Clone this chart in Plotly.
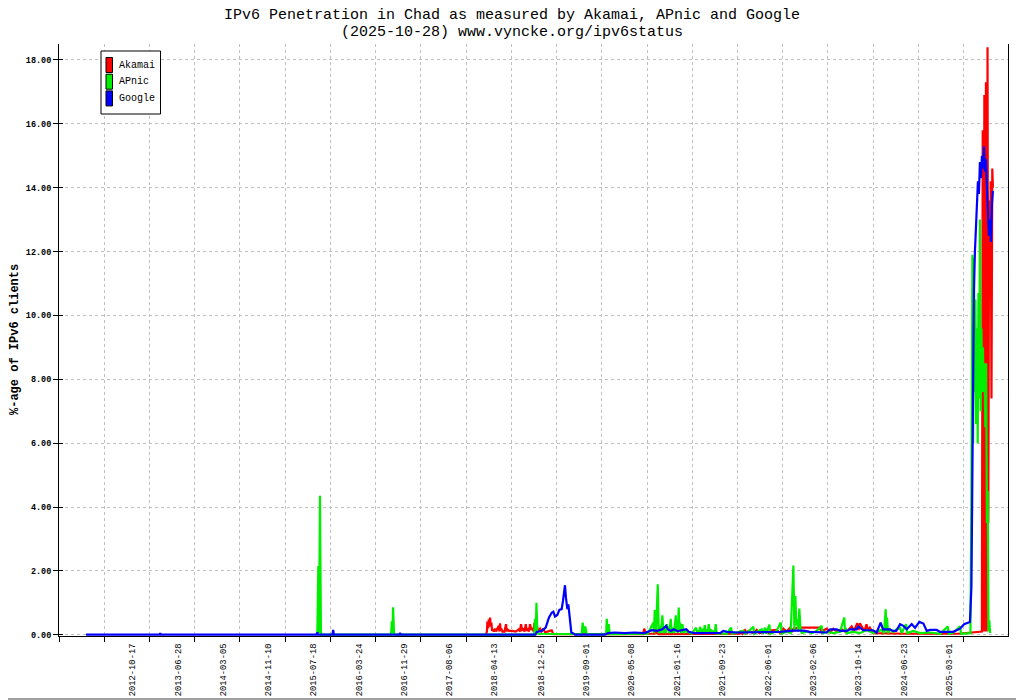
"""
IPv6 penetration in Chad (Akamai, APnic, Google), gnuplot-style look.
Values were read off a reference picture; x positions are decimal years.
"""
import pandas as pd
import plotly.graph_objects as go

FONT = "Liberation Mono"

TITLE_1 = "IPv6 Penetration in Chad as measured by Akamai, APnic and Google"
TITLE_2 = "(2025-10-28) www.vyncke.org/ipv6status"
Y_TITLE = "%-age of IPv6 clients"

TICK_LABELS = [
    "2012-10-17", "2013-06-28", "2014-03-05", "2014-11-10", "2015-07-18",
    "2016-03-24", "2016-11-29", "2017-08-06", "2018-04-13", "2018-12-25",
    "2019-09-01", "2020-05-08", "2021-01-16", "2021-09-23", "2022-06-01",
    "2023-02-06", "2023-10-14", "2024-06-23", "2025-03-01",
]

AKAMAI_YEAR = [
    2018.150, 2018.165, 2018.172, 2018.183, 2018.193, 2018.203, 2018.213, 2018.223,
    2018.233, 2018.243, 2018.253, 2018.270, 2018.290, 2018.304, 2018.324, 2018.344,
    2018.354, 2018.364, 2018.374, 2018.384, 2018.400, 2018.430, 2018.455, 2018.465,
    2018.475, 2018.500, 2018.550, 2018.600, 2018.647, 2018.665, 2018.682, 2018.700,
    2018.717, 2018.735, 2018.753, 2018.768, 2018.783, 2018.800, 2018.818, 2018.838,
    2018.858, 2018.870, 2018.884, 2018.900, 2018.919, 2018.940, 2018.969, 2018.990,
    2019.020, 2019.045, 2019.070, 2019.146, 2019.170,
    2020.530, 2020.545, 2020.570, 2020.700, 2020.710, 2020.735, 2020.760,
    2021.990, 2022.000, 2022.030, 2022.071, 2022.100, 2022.122, 2022.200, 2022.248,
    2022.290, 2022.399, 2022.430, 2022.475, 2022.550, 2022.600, 2022.651, 2022.700,
    2022.752, 2022.780, 2022.803, 2022.900, 2023.200, 2023.231, 2023.260, 2023.310,
    2023.360, 2023.408, 2023.460, 2023.530, 2023.600, 2023.686, 2023.720, 2023.770,
    2023.790, 2023.810, 2023.850, 2023.880, 2023.910, 2023.930, 2023.960, 2024.010,
    2024.500, 2025.300,
    2025.655, 2025.667, 2025.679, 2025.692, 2025.704, 2025.716, 2025.728, 2025.740,
    2025.752, 2025.764, 2025.776, 2025.788, 2025.800, 2025.812, 2025.822,
]
AKAMAI_PCT = [
    0.00, 0.10, 0.41, 0.20, 0.48, 0.25, 0.54, 0.30,
    0.38, 0.12, 0.17, 0.10, 0.19, 0.10, 0.20, 0.28,
    0.10, 0.36, 0.12, 0.19, 0.10, 0.10, 0.33, 0.10,
    0.17, 0.12, 0.12, 0.10, 0.17, 0.10, 0.33, 0.15,
    0.17, 0.10, 0.33, 0.12, 0.20, 0.10, 0.33, 0.15,
    0.22, 0.10, 0.38, 0.15, 0.28, 0.12, 0.19, 0.10,
    0.19, 0.08, 0.09, 0.14, 0.02,
    0.02, 0.19, 0.03, 0.03, 0.42, 0.05, 0.02,
    0.03, 0.09, 0.03, 0.14, 0.05, 0.12, 0.05, 0.15,
    0.05, 0.14, 0.06, 0.14, 0.15, 0.06, 0.19, 0.10,
    0.22, 0.08, 0.19, 0.22, 0.22, 0.08, 0.14, 0.19,
    0.08, 0.19, 0.10, 0.17, 0.08, 0.26, 0.12, 0.36,
    0.15, 0.36, 0.22, 0.12, 0.33, 0.15, 0.22, 0.05,
    0.03, 0.03,
    0.10, 15.8, 0.10, 16.9, 0.10, 17.3, 0.10, 18.4,
    3.50, 13.6, 10.6, 14.2, 7.40, 14.6, 14.0,
]

APNIC_YEAR = [
    2015.600, 2015.615, 2015.625, 2015.640, 2015.655,
    2016.715, 2016.725, 2016.735, 2016.745, 2016.760,
    2018.880, 2018.894, 2018.905, 2018.915, 2018.930, 2019.400,
    2019.600, 2019.615, 2019.635, 2019.655, 2019.675,
    2019.970, 2019.980, 2019.995, 2020.010, 2020.025, 2020.600,
    2020.684, 2020.694, 2020.704, 2020.724, 2020.750, 2020.765, 2020.775, 2020.795,
    2020.820, 2020.835, 2020.851, 2020.871, 2020.886, 2020.911, 2020.926, 2020.946,
    2020.962, 2020.972, 2020.997, 2021.022, 2021.032, 2021.042, 2021.052, 2021.067,
    2021.078, 2021.088, 2021.103, 2021.123, 2021.143, 2021.163, 2021.214, 2021.264,
    2021.330, 2021.345, 2021.365, 2021.380, 2021.390, 2021.410, 2021.431, 2021.446,
    2021.461, 2021.476, 2021.491, 2021.506, 2021.521, 2021.537, 2021.552, 2021.592,
    2021.612, 2021.627, 2021.642, 2021.693, 2021.794, 2021.859, 2021.874,
    2022.046, 2022.071, 2022.122, 2022.197, 2022.212, 2022.273, 2022.323, 2022.339,
    2022.374, 2022.389, 2022.439, 2022.455, 2022.550, 2022.611, 2022.626, 2022.702,
    2022.762, 2022.803, 2022.818, 2022.833, 2022.848, 2022.863, 2022.878, 2022.893,
    2022.909, 2022.929, 2023.004, 2023.080, 2023.156, 2023.231, 2023.246,
    2023.307, 2023.408, 2023.509, 2023.574, 2023.584, 2023.594, 2023.609, 2023.710,
    2023.811, 2023.912, 2024.013, 2024.139, 2024.175, 2024.200, 2024.210, 2024.220,
    2024.235, 2024.265, 2024.316, 2024.366, 2024.417, 2024.442, 2024.507, 2024.528,
    2024.618, 2024.719, 2024.870, 2025.022, 2025.138, 2025.153, 2025.224, 2025.324,
    2025.340, 2025.450,
    2025.4812, 2025.4963, 2025.5114, 2025.5220, 2025.5341, 2025.5462, 2025.5568,
    2025.5674, 2025.5795, 2025.5916, 2025.6022, 2025.6128, 2025.6249, 2025.6370,
    2025.6476, 2025.6597, 2025.6703, 2025.6824, 2025.6945, 2025.7066, 2025.7187,
    2025.7308, 2025.7429, 2025.7550, 2025.7671, 2025.7792,
]
APNIC_PCT = [
    0.00, 2.15, 0.05, 4.35, 0.00,
    0.00, 0.42, 0.05, 0.86, 0.00,
    0.00, 0.50, 0.10, 1.00, 0.03, 0.03,
    0.02, 0.38, 0.05, 0.26, 0.02,
    0.02, 0.50, 0.05, 0.33, 0.02, 0.03,
    0.38, 0.05, 0.77, 0.10, 1.58, 0.05, 0.28, 0.05,
    0.61, 0.05, 0.22, 0.05, 0.33, 0.17, 0.05, 0.50,
    0.05, 0.22, 0.05, 0.61, 0.10, 0.28, 0.05, 0.85,
    0.10, 0.38, 0.05, 0.33, 0.05, 0.12, 0.07, 0.03,
    0.22, 0.05, 0.15, 0.03, 0.25, 0.05, 0.19, 0.05,
    0.30, 0.05, 0.17, 0.05, 0.33, 0.05, 0.15, 0.09,
    0.03, 0.33, 0.03, 0.05, 0.03, 0.22, 0.03,
    0.12, 0.03, 0.10, 0.25, 0.03, 0.12, 0.17, 0.03,
    0.22, 0.03, 0.32, 0.03, 0.12, 0.38, 0.03, 0.10,
    0.05, 2.17, 0.10, 1.21, 0.30, 0.49, 0.10, 0.82,
    0.22, 0.05, 0.10, 0.05, 0.12, 0.28, 0.05,
    0.09, 0.05, 0.09, 0.54, 0.10, 0.22, 0.05, 0.09,
    0.05, 0.15, 0.05, 0.15, 0.05, 0.80, 0.10, 0.54,
    0.05, 0.17, 0.08, 0.17, 0.22, 0.05, 0.33, 0.05,
    0.12, 0.05, 0.07, 0.03, 0.26, 0.03, 0.07, 0.26,
    0.03, 0.05,
    0.05, 4.60, 11.9, 6.00, 11.8, 7.60, 10.5,
    6.60, 9.60, 6.00, 10.7, 7.40, 13.0, 7.00,
    9.60, 7.60, 9.00, 7.60, 8.50, 6.50, 8.50,
    3.50, 4.50, 0.10, 0.45, 0.05,
]

GOOGLE_YEAR = [
    2012.100, 2013.210, 2013.220, 2013.230, 2015.590, 2015.600, 2015.610,
    2015.830, 2015.840, 2015.850, 2016.840, 2016.850, 2016.860,
    2018.900, 2018.919, 2018.995, 2019.055, 2019.080, 2019.105, 2019.146, 2019.171,
    2019.196, 2019.231, 2019.262, 2019.297, 2019.317, 2019.332, 2019.347, 2019.362,
    2019.383, 2019.398, 2019.413, 2019.428, 2019.443, 2019.474, 2019.500,
    2019.950, 2020.000, 2020.100, 2020.250, 2020.400, 2020.550, 2020.660, 2020.740,
    2020.820, 2020.876, 2020.900, 2020.950, 2020.990, 2021.050, 2021.180, 2021.220,
    2021.300, 2021.500, 2021.700, 2021.740, 2021.800, 2021.950, 2022.100, 2022.250,
    2022.400, 2022.600, 2022.800, 2022.960, 2023.050, 2023.206, 2023.306, 2023.360,
    2023.460, 2023.510, 2023.610, 2023.660, 2023.760, 2023.786, 2023.860, 2024.010,
    2024.063, 2024.124, 2024.139, 2024.160, 2024.260, 2024.310, 2024.360, 2024.417,
    2024.467, 2024.517, 2024.593, 2024.644, 2024.709, 2024.770, 2024.820, 2024.870,
    2024.970, 2025.020, 2025.220, 2025.274, 2025.324, 2025.385, 2025.450,
    2025.4736, 2025.4963, 2025.5039, 2025.5114, 2025.5190, 2025.5341, 2025.5492,
    2025.5644, 2025.5795, 2025.5946, 2025.6098, 2025.6249, 2025.6400, 2025.6552,
    2025.6703, 2025.6854, 2025.7006, 2025.7157, 2025.7308, 2025.7460, 2025.7611,
    2025.7762, 2025.7913, 2025.8065, 2025.8216,
]
GOOGLE_PCT = [
    0.00, 0.00, 0.05, 0.00, 0.00, 0.08, 0.00,
    0.00, 0.15, 0.00, 0.00, 0.06, 0.00,
    0.00, 0.09, 0.12, 0.22, 0.38, 0.54, 0.69, 0.72,
    0.57, 0.62, 0.78, 0.80, 1.06, 1.42, 1.55, 1.16,
    0.80, 0.95, 0.69, 0.38, 0.07, 0.04, 0.00,
    0.00, 0.05, 0.07, 0.05, 0.07, 0.05, 0.14, 0.12,
    0.17, 0.28, 0.17, 0.12, 0.17, 0.11, 0.17, 0.09,
    0.05, 0.05, 0.06, 0.12, 0.09, 0.07, 0.07, 0.08,
    0.09, 0.09, 0.13, 0.13, 0.09, 0.07, 0.07, 0.17,
    0.17, 0.12, 0.12, 0.17, 0.17, 0.26, 0.14, 0.14,
    0.07, 0.38, 0.28, 0.17, 0.17, 0.12, 0.12, 0.33,
    0.28, 0.17, 0.33, 0.22, 0.40, 0.35, 0.12, 0.15,
    0.15, 0.09, 0.09, 0.14, 0.19, 0.33, 0.40,
    0.40, 1.50, 4.00, 6.50, 8.50, 10.8, 12.0,
    12.8, 13.5, 14.2, 13.8, 14.8, 14.3, 15.0,
    14.6, 15.3, 14.5, 14.9, 14.0, 13.2, 12.5,
    13.0, 12.3, 13.5, 13.9,
]

# page is drawn with the browser's default 8px body margin
OFF = 8
W, H = 1024 - OFF, 700 - OFF
# plot area in page pixels (gnuplot-like frame)
LEFT, RIGHT, TOP, BOTTOM = 59, 1008, 44, 636
# a hair below zero so the zero-level lines are not clipped by the frame
Y_RANGE = [-0.04, 18.5]


def year_to_date(y: float) -> pd.Timestamp:
    yr = int(y)
    start = pd.Timestamp(yr, 1, 1)
    end = pd.Timestamp(yr + 1, 1, 1)
    return start + (end - start) * (y - yr)


def px_x(px: float) -> float:
    return (px - LEFT) / (RIGHT - LEFT)


def px_y(py: float) -> float:
    return (BOTTOM - py) / (BOTTOM - TOP)


x_range = [year_to_date(2011.691), year_to_date(2026.05)]
tick_marks = list(pd.date_range(year_to_date(2011.691), periods=22, freq="250D"))

fig = go.Figure()
series = [
    ("Akamai", AKAMAI_YEAR, AKAMAI_PCT, "#ff0000"),
    ("APnic", APNIC_YEAR, APNIC_PCT, "#00ee00"),
    ("Google", GOOGLE_YEAR, GOOGLE_PCT, "#0000ff"),
]
for name, years, pct, color in series:
    on_top = name == "Google"  # last trace also carries the label/tick overlay axes
    fig.add_trace(
        go.Scatter(
            x=[year_to_date(y) for y in years],
            y=pct,
            mode="lines",
            name=name,
            line=dict(color=color, width=2.2),
            showlegend=False,
            xaxis="x2" if on_top else "x",
            yaxis="y2" if on_top else "y",
        )
    )

# hand-drawn legend box, gnuplot style
shapes = [
    dict(type="rect", xref="paper", yref="paper",
         x0=px_x(101), x1=px_x(160.5), y0=px_y(114), y1=px_y(51),
         line=dict(color="black", width=1), fillcolor="white"),
    dict(type="rect", xref="paper", yref="paper",
         x0=px_x(1), x1=px_x(1023), y0=px_y(699), y1=px_y(1),
         line=dict(color="#a0a0a0", width=2)),
]
annotations = []
for i, (name, _, _, color) in enumerate(series):
    top = 57.5 + i * 16.7
    shapes.append(dict(type="rect", xref="paper", yref="paper",
                       x0=px_x(106), x1=px_x(112.5), y0=px_y(top + 15), y1=px_y(top),
                       line=dict(color="black", width=1), fillcolor=color))
    annotations.append(dict(text=name, xref="paper", yref="paper",
                            x=px_x(117), y=px_y(top + 7.5), xanchor="left", yanchor="middle",
                            showarrow=False, font=dict(family=FONT, size=10, color="black")))

annotations += [
    dict(text=TITLE_1, xref="paper", yref="paper", x=px_x(512), y=px_y(15),
         xanchor="center", yanchor="middle", showarrow=False,
         font=dict(family=FONT, size=15, color="black")),
    dict(text=TITLE_2, xref="paper", yref="paper", x=px_x(512), y=px_y(33),
         xanchor="center", yanchor="middle", showarrow=False,
         font=dict(family=FONT, size=15, color="black")),
    dict(text="<b>" + Y_TITLE + "</b>", xref="paper", yref="paper", x=px_x(15), y=px_y(340),
         xanchor="center", yanchor="middle", textangle=-90, showarrow=False,
         font=dict(family=FONT, size=12, color="black")),
]

grid = dict(showgrid=True, gridcolor="#c0c0c0", gridwidth=1, griddash="dot")

fig.update_layout(
    width=W,
    height=H,
    margin=dict(l=LEFT - OFF, r=1024 - RIGHT, t=TOP - OFF, b=700 - BOTTOM, pad=0),
    paper_bgcolor="white",
    plot_bgcolor="white",
    showlegend=False,
    shapes=shapes,
    annotations=annotations,
    xaxis=dict(
        type="date", range=x_range, tickmode="array", tickvals=tick_marks,
        showticklabels=False, ticks="outside", ticklen=5, tickcolor="black",
        showline=True, linecolor="black", linewidth=1, zeroline=False,
        automargin=False, **grid,
    ),
    xaxis2=dict(
        type="date", range=x_range, overlaying="x", side="bottom", anchor="y2",
        tickmode="array", tickvals=pd.to_datetime(TICK_LABELS), ticktext=TICK_LABELS,
        tickangle=-90, ticks="outside", ticklen=3, tickcolor="rgba(0,0,0,0)",
        showgrid=False, showline=False, zeroline=False, automargin=False,
        tickfont=dict(family=FONT, size=8.8, color="black"),
    ),
    yaxis=dict(
        range=Y_RANGE, tickmode="linear", tick0=0, dtick=2, tickformat=".2f",
        ticks="outside", ticklen=5, tickcolor="black", showline=True, mirror=True,
        linecolor="black", linewidth=1, zeroline=False, automargin=False,
        tickfont=dict(family=FONT, size=8.5, color="black", weight="bold"), **grid,
    ),
    yaxis2=dict(
        range=Y_RANGE, overlaying="y", side="left", anchor="x2", tickmode="linear",
        tick0=0, dtick=2, ticks="inside", ticklen=4, tickcolor="black",
        showticklabels=False, showgrid=False, showline=False, zeroline=False,
        automargin=False,
    ),
)

fig.write_html("out.html")
